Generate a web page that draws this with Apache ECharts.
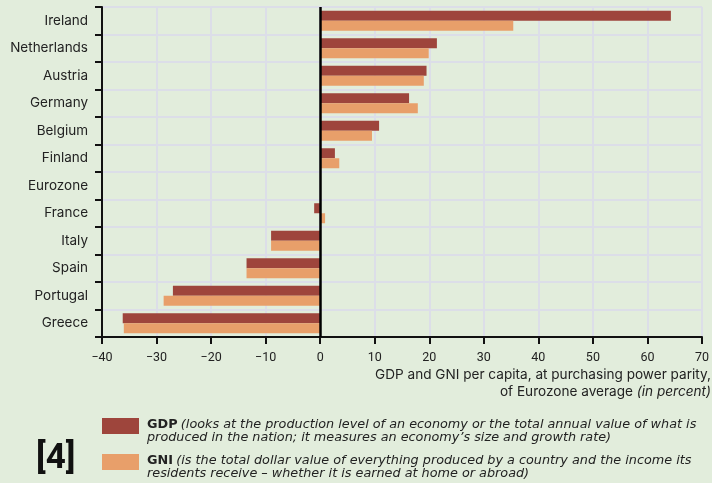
<!DOCTYPE html>
<html>
<head>
<meta charset="utf-8">
<script src="https://cdn.jsdelivr.net/npm/echarts@6/dist/echarts.min.js"></script>
<style>
html,body{margin:0;padding:0;background:#e2eddc;}
#chart{width:712px;height:483px;}
</style>
</head>
<body>
<div id="chart"></div>
<script>
const categories = ['Ireland','Netherlands','Austria','Germany','Belgium','Finland','Eurozone','France','Italy','Spain','Portugal','Greece'];
const gdpValues = [64.3, 21.4, 19.5, 16.3, 10.8, 2.7, 0, -1.1, -9.0, -13.5, -27.0, -36.2];
const gniValues = [35.4, 19.9, 19.0, 17.9, 9.5, 3.5, 0, 0.9, -9.0, -13.5, -28.7, -36.0];
const xTicks = [-40, -30, -20, -10, 0, 10, 20, 30, 40, 50, 60, 70];
const seriesNames = ['GDP', 'GNI'];
const gdpNote = ['(looks at the production level of an economy or the total annual value of what is', 'produced in the nation; it measures an economy\u2019s size and growth rate)'];
const gniNote = ['(is the total dollar value of everything produced by a country and the income its', 'residents receive \u2013 whether it is earned at home or abroad)'];
const axisTitle = ['GDP and GNI per capita, at purchasing power parity,', 'of Eurozone average ', '(in percent)'];

const COL_GDP = '#9e453c';
const COL_GNI = '#e89f6a';
const GRID_COL = '#dcdee8';
const TXT = '#222';

const chart = echarts.init(document.getElementById('chart'));
const legendRich = {
  b: { fontSize: 12.8, fontFamily: 'DejaVu Sans', fontWeight: 'bold', fill: TXT, lineHeight: 13 },
  i: { fontSize: 12.8, fontFamily: 'DejaVu Sans', fontStyle: 'italic', fill: TXT, lineHeight: 13 }
};
const option = {
  backgroundColor: '#e2eddc',
  animation: false,
  grid: { left: 102, right: 9, top: 7, bottom: 146, containLabel: false },
  xAxis: {
    type: 'value',
    min: xTicks[0],
    max: xTicks[xTicks.length - 1],
    interval: 10,
    axisLine: { show: true, onZero: false, lineStyle: { color: '#111', width: 2 } },
    axisTick: { show: true, length: 7, lineStyle: { color: '#111', width: 2 } },
    axisLabel: {
      color: TXT, fontSize: 12.5, fontFamily: 'Roboto', margin: 14,
      formatter: v => v < 0 ? '\u2212' + Math.abs(v) : String(v)
    },
    splitLine: { show: true, lineStyle: { color: GRID_COL, width: 2 } }
  },
  yAxis: {
    type: 'category',
    inverse: true,
    data: categories,
    axisLine: { show: true, onZero: false, lineStyle: { color: '#111', width: 2 } },
    axisTick: { show: true, length: 7, lineStyle: { color: '#111', width: 2 } },
    axisLabel: { color: TXT, fontSize: 13.5, fontFamily: 'Inter', margin: 14 },
    splitLine: { show: true, lineStyle: { color: GRID_COL, width: 2 } }
  },
  series: [
    {
      name: seriesNames[0], type: 'bar', data: gdpValues, barWidth: 10, barGap: '0%',
      itemStyle: { color: COL_GDP },
      markLine: {
        silent: true, symbol: 'none', label: { show: false },
        lineStyle: { color: '#000', width: 2.5, type: 'solid' },
        data: [{ xAxis: 0 }]
      }
    },
    {
      name: seriesNames[1], type: 'bar', data: gniValues, barWidth: 10, barGap: '0%',
      itemStyle: { color: COL_GNI }
    }
  ],
  graphic: [
    {
      type: 'text', right: 1, top: 368,
      style: { text: axisTitle[0], fontSize: 13.6, fontFamily: 'Inter', fill: TXT }
    },
    {
      type: 'text', right: 1, top: 385,
      style: {
        text: '{n|' + axisTitle[1] + '}{i|' + axisTitle[2] + '}',
        rich: {
          n: { fontSize: 13.6, fontFamily: 'Inter', fill: TXT },
          i: { fontSize: 13.6, fontFamily: 'Inter', fontStyle: 'italic', fill: TXT }
        }
      }
    },
    { type: 'rect', shape: { x: 102, y: 418, width: 37, height: 16 }, style: { fill: COL_GDP } },
    { type: 'rect', shape: { x: 102, y: 454, width: 37, height: 16 }, style: { fill: COL_GNI } },
    {
      type: 'text', left: 147, top: 418,
      style: { text: '{b|' + seriesNames[0] + '} {i|' + gdpNote[0] + '}\n{i|' + gdpNote[1] + '}', rich: legendRich }
    },
    {
      type: 'text', left: 147, top: 454,
      style: { text: '{b|' + seriesNames[1] + '} {i|' + gniNote[0] + '}\n{i|' + gniNote[1] + '}', rich: legendRich }
    },
    {
      type: 'text', left: 36, top: 442,
      style: { text: '[4]', fontSize: 35, fontWeight: 'bold', fontFamily: 'Roboto', fill: '#111' }
    }
  ]
};
chart.setOption(option);
</script>
</body>
</html>
